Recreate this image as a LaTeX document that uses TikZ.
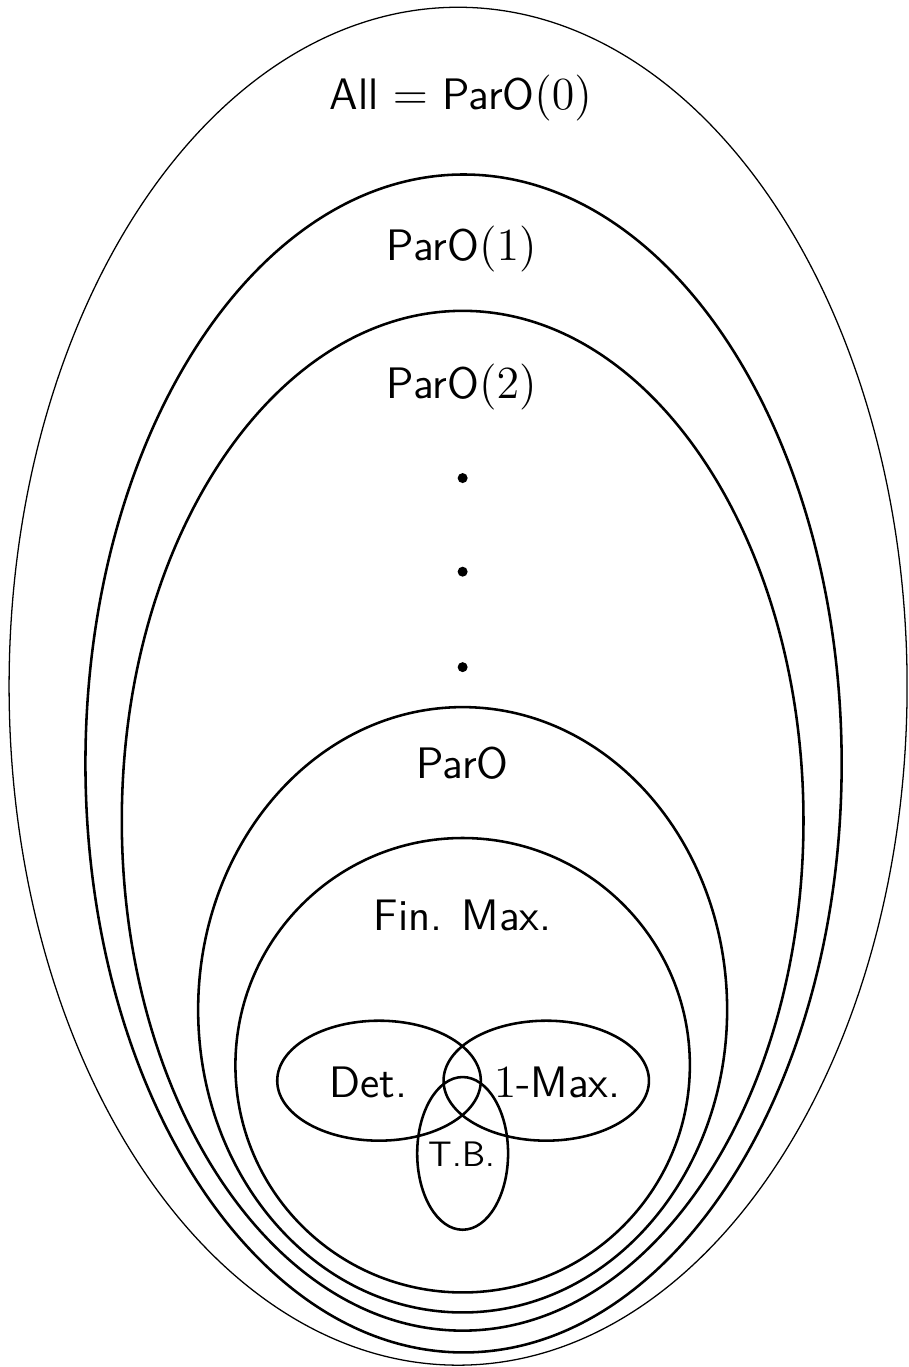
\documentclass[tikz,border=0pt]{standalone}
\usepackage{amsmath,amssymb}
\usepackage{tikz}

\tikzset{
  classline/.style={thick},
  biglabel/.style={font=\sffamily\fontsize{13.8pt}{16pt}\selectfont},
  smalllabel/.style={font=\sffamily\fontsize{11.1pt}{13pt}\selectfont}
}

\begin{document}
\begin{tikzpicture}[scale=1.0, every node/.style={biglabel, inner sep=0pt}]
\useasboundingbox (0,0) rectangle (10,15.04);

% --- nested classes ---
\draw (5.04,7.49) ellipse (4.94 and 7.47);                % All
\draw[classline] (5.10,6.64) ellipse (4.16 and 6.48);     % ParO(1)
\draw[classline] (5.09,6.01) ellipse (3.75 and 5.61);     % ParO(2)
\draw[classline] (5.09,3.93) ellipse (2.91 and 3.33);     % ParO
\draw[classline] (5.09,3.32) circle (2.50);               % Fin. Max.

% --- overlapping subclasses ---
\draw[classline] (4.17,3.15) ellipse (1.12 and 0.66);     % Det.
\draw[classline] (6.01,3.15) ellipse (1.13 and 0.66);     % 1-Max.
\draw[classline] (5.09,2.35) ellipse (0.50 and 0.84);     % T.B.

% --- vertical dots ---
\foreach \y in {9.78, 8.75, 7.70}
    \fill (5.09,\y) circle (0.055);

% --- labels ---
\node[anchor=base] (all)   at (5.07,13.83) {All $=$ ParO$(0)$};
\node[anchor=base] (paro1) at (5.08,12.17) {ParO$(1)$};
\node[anchor=base] (paro2) at (5.08,10.66) {ParO$(2)$};
\node[anchor=base] (paro)  at (5.09,6.47)  {ParO};
\node[anchor=base] (finmax) at (5.09,4.80) {Fin. Max.};
\node[anchor=base] (det)   at (4.05,2.97)  {Det.};
\node[anchor=base] (onemax) at (6.13,2.97) {$1$-Max.};
\node[anchor=base, smalllabel] (tb) at (5.08,2.21) {T.B.};

\end{tikzpicture}
\end{document}
